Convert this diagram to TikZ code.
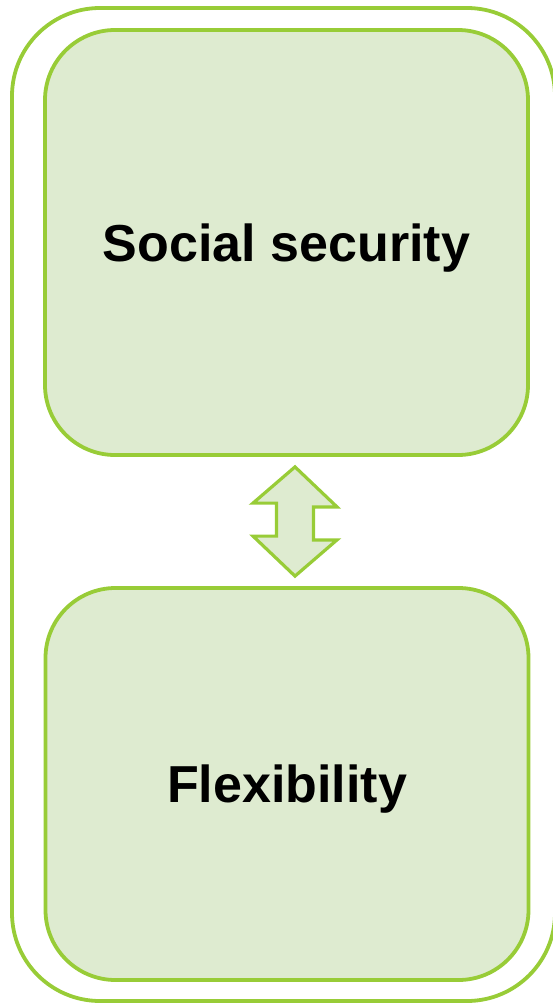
\documentclass[tikz,border=0pt]{standalone}
\usepackage{fontspec}
\setmainfont{Liberation Sans}
\definecolor{leafline}{RGB}{152,204,55}
\definecolor{leaffill}{RGB}{222,235,208}
\begin{document}
\begin{tikzpicture}[x=1pt,y=-1pt,
  outerbox/.style={draw=leafline,line width=3.8pt,rounded corners=88pt,inner sep=0pt},
  card/.style={draw=leafline,fill=leaffill,line width=3.8pt,rounded corners=70pt,
    inner sep=0pt,text depth=0pt,minimum width=483pt,font=\fontsize{52}{60}\selectfont\bfseries}]
\useasboundingbox (0,0) rectangle (552,1004);
\node [outerbox, minimum width=543pt, minimum height=993pt] (frame) at (283.5,504.5) {};
\node [card, minimum height=425pt] (security) at (286.5,242.5) {Social security};
\node [card, minimum height=392pt] (flex) at (287,784) {Flexibility};
% two-way arrow between the cards
\coordinate (up) at ([xshift=8.5pt,yshift=-10pt]security.south);
\coordinate (down) at ([xshift=8pt,yshift=10pt]flex.north);
\draw [leafline, fill=leaffill, line width=3.2pt]
  (up) -- ++(42,40) -- ++(-23.5,0) -- ++(0,33) -- ++(23.5,0)
  -- (down) -- ++(-42,-40) -- ++(23.5,0) -- ++(0,-33) -- ++(-23.5,0) -- cycle;
\end{tikzpicture}
\end{document}
